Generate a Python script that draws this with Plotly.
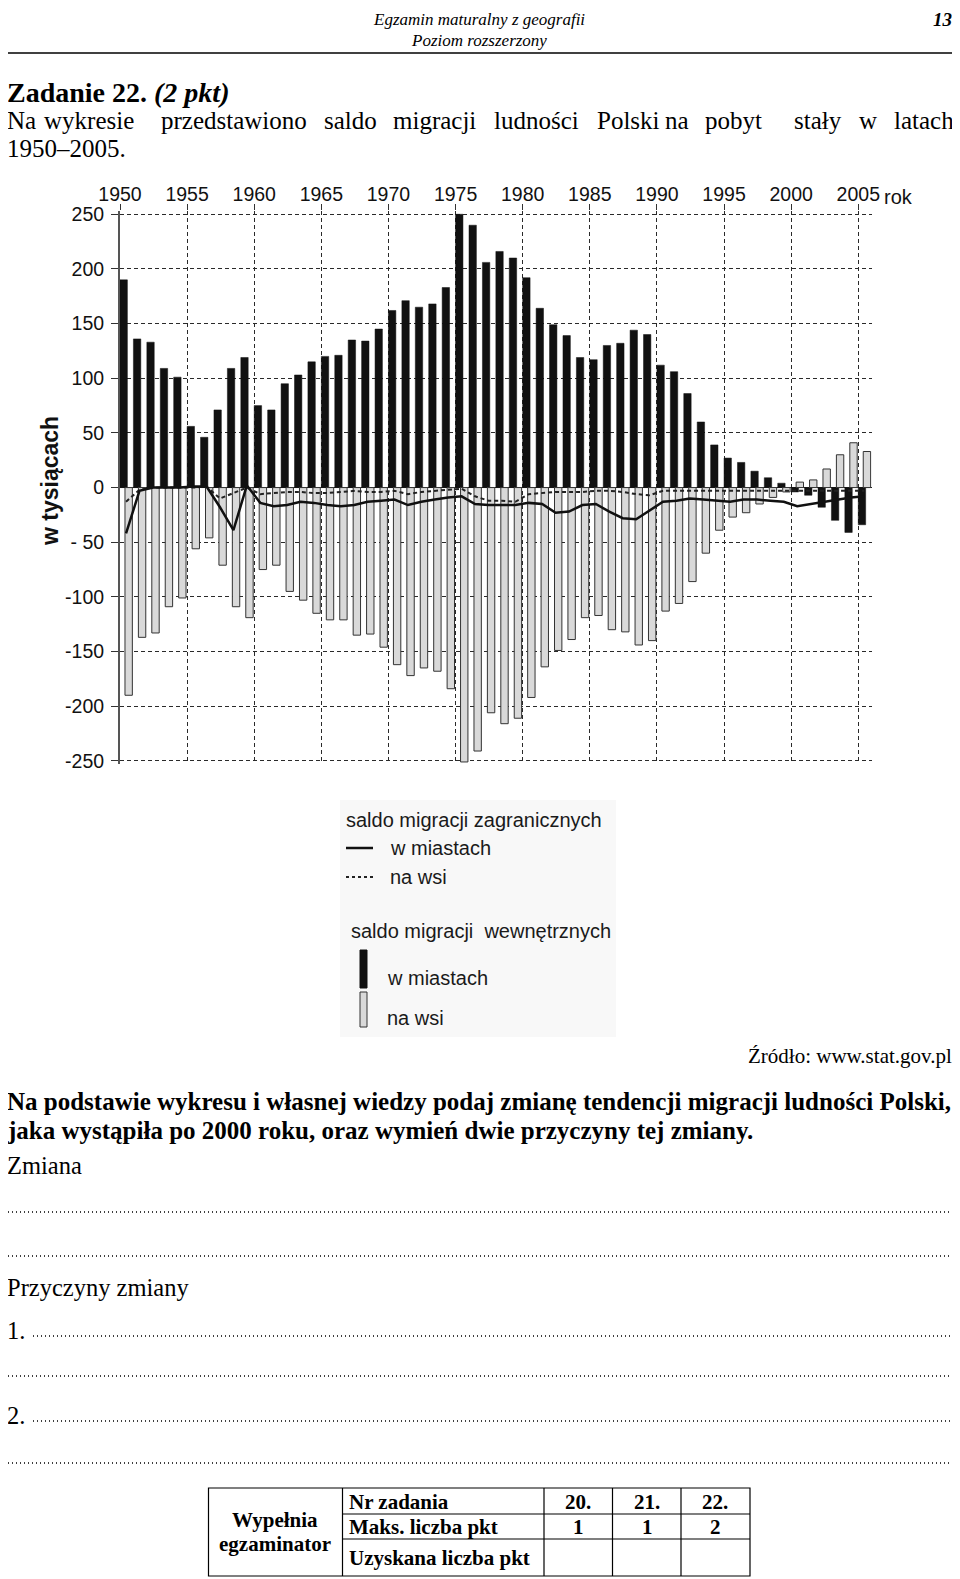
import plotly.graph_objects as go

# lata i dane (w tysiącach)
lata = list(range(1950, 2006))

# saldo migracji wewnętrznych
wewn_miasta = [190, 136, 133, 109, 101, 56, 46, 71, 109, 119,
               75, 71, 95, 103, 115, 120, 121, 135, 134, 145,
               162, 171, 165, 168, 183, 250, 240, 206, 216, 210,
               192, 164, 149, 139, 119, 117, 130, 132, 144, 140,
               112, 106, 86, 60, 39, 27, 23, 15, 9, 4,
               -4, -7, -18, -30, -41, -34]
wewn_wies = [-190, -137, -133, -109, -101, -56, -46, -71, -109, -119,
             -75, -71, -95, -103, -115, -121, -121, -135, -134, -146,
             -162, -172, -165, -168, -184, -251, -241, -206, -216, -211,
             -192, -164, -149, -139, -119, -117, -130, -132, -144, -140,
             -113, -106, -86, -60, -39, -27, -23, -15, -9, -4,
             5, 7, 17, 30, 41, 33]

# saldo migracji zagranicznych
zagr_miasta = [-42, -3, 0, 0, 0, 1, 1, -18, -39, 2,
               -14, -17, -16, -13, -14, -16, -17, -16, -13, -12,
               -11, -16, -13, -11, -9, -8, -15, -16, -16, -16,
               -14, -15, -23, -22, -16, -15, -22, -28, -29, -21,
               -13, -12, -10, -11, -12, -13, -11, -11, -12, -13,
               -17, -15, -13, -11, -9, -8]
zagr_wies = [-13, -2, 0, 0, 0, 0, 1, -10, -5, 0,
             -6, -5, -4, -4, -5, -5, -4, -3, -4, -4,
             -3, -6, -4, -3, -2, -1, -8, -12, -12, -13,
             -6, -5, -4, -4, -4, -3, -3, -4, -6, -7,
             -3, -3, -3, -3, -3, -3, -3, -3, -3, -3,
             -3, -3, -3, -3, -3, -3]

y_ticks = [250, 200, 150, 100, 50, 0, -50, -100, -150, -200, -250]
y_labels = ["250", "200", "150", "100", "50", "0", "- 50", "-100", "-150", "-200", "-250"]
x_ticks = list(range(1950, 2006, 5))
x_labels = [str(r) for r in x_ticks]

# strona ma 8 px marginesu body, więc figura jest o tyle mniejsza i przesunięta
M = 8
W, H = 960 - M, 1579 - M


def px(x):
    return (x - M) / W


def py(y):
    return 1 - (y - M) / H


fig = go.Figure()

fig.add_trace(go.Bar(
    x=lata, y=wewn_miasta, width=0.55, offset=0.0,
    marker=dict(color="#111111", line=dict(color="#111111", width=0.5)),
    showlegend=False
))
fig.add_trace(go.Bar(
    x=lata, y=wewn_wies, width=0.55, offset=0.37,
    marker=dict(color="#d9d9d9", line=dict(color="#333333", width=1)),
    showlegend=False
))

x_lin = [r + 0.45 for r in lata]
fig.add_trace(go.Scatter(
    x=x_lin, y=zagr_wies, mode="lines",
    line=dict(color="#222222", width=2, dash="4px,3px"),
    showlegend=False
))
fig.add_trace(go.Scatter(
    x=x_lin, y=zagr_miasta, mode="lines",
    line=dict(color="#111111", width=2.5),
    showlegend=False
))

# --- tekst strony ---
ann = []


def tekst(s, x, y, size=25, anchor="left", family="Liberation Serif", color="black"):
    ann.append(dict(text=s, x=px(x), y=py(y), xref="paper", yref="paper",
                    xanchor=anchor, yanchor="middle", showarrow=False,
                    font=dict(family=family, size=size, color=color)))


tekst("<i>Egzamin maturalny z geografii</i>", 479, 19, size=17, anchor="center")
tekst("<i>Poziom rozszerzony</i>", 479, 41, size=17, anchor="center")
tekst("<b><i>13</i></b>", 954, 19, size=19, anchor="right")

tekst("<b>Zadanie 22. <i>(2 pkt)</i></b>", 5, 92, size=28)
slowa = ["Na", "wykresie", "przedstawiono", "saldo", "migracji", "ludności",
         "Polski", "na", "pobyt", "stały", "w", "latach"]
pozycje = [7, 44, 161, 324, 393, 494, 597, 665, 705, 794, 859, 894]
for s, x in zip(slowa, pozycje):
    tekst(s, x - 2, 121, size=25)
tekst("1950–2005.", 5, 149, size=25)

tekst("Źródło: www.stat.gov.pl", 954, 1056, size=21, anchor="right")
tekst("<b>Na podstawie wykresu i własnej wiedzy podaj zmianę tendencji migracji ludności Polski,</b>",
      5, 1101, size=25)
tekst("<b>jaka wystąpiła po 2000 roku, oraz wymień dwie przyczyny tej zmiany.</b>", 5, 1130, size=25)
tekst("Zmiana", 5, 1165, size=24.5)
tekst("Przyczyny zmiany", 5, 1287, size=24.5)
tekst("1.", 5, 1330, size=24.5)
tekst("2.", 5, 1415, size=24.5)

# oś Y - opis
ann.append(dict(text="<b>w tysiącach</b>", x=px(50), y=py(481), xref="paper", yref="paper",
                textangle=-90, showarrow=False, xanchor="center", yanchor="middle",
                font=dict(family="Liberation Sans", size=23, color="#111111")))
tekst("rok", 882, 197, size=20, family="Liberation Sans", color="#111111")

# legenda
leg_font = "Liberation Sans"
tekst("saldo migracji zagranicznych", 344, 820, size=20, family=leg_font, color="#1a1a1a")
tekst("w miastach", 388, 848, size=20, family=leg_font, color="#1a1a1a")
tekst("na wsi", 388, 877, size=20, family=leg_font, color="#1a1a1a")
tekst("saldo migracji  wewnętrznych", 349, 931, size=20, family=leg_font, color="#1a1a1a")
tekst("w miastach", 385, 978, size=20, family=leg_font, color="#1a1a1a")
tekst("na wsi", 385, 1018, size=20, family=leg_font, color="#1a1a1a")

# tabela
tekst("<b>Wypełnia</b>", 275, 1520, size=21, anchor="center")
tekst("<b>egzaminator</b>", 275, 1544, size=21, anchor="center")
tekst("<b>Nr zadania</b>", 347, 1502, size=21)
tekst("<b>Maks. liczba pkt</b>", 347, 1527, size=21)
tekst("<b>Uzyskana liczba pkt</b>", 347, 1558, size=21)
for nr, pkt, xc in zip(["20.", "21.", "22."], ["1", "1", "2"], [578, 647, 715]):
    tekst("<b>%s</b>" % nr, xc, 1502, size=21, anchor="center")
    tekst("<b>%s</b>" % pkt, xc, 1527, size=21, anchor="center")

shapes = []


def linia(x0, y0, x1, y1, width=1.2, dash="solid", color="black"):
    shapes.append(dict(type="line", xref="paper", yref="paper",
                       x0=px(x0), y0=py(y0), x1=px(x1), y1=py(y1),
                       line=dict(color=color, width=width, dash=dash)))


linia(8, 53, 952, 53, width=1.5)

# tło legendy
shapes.append(dict(type="rect", xref="paper", yref="paper",
                   x0=px(340), y0=py(1037), x1=px(616), y1=py(800),
                   fillcolor="#f8f8f8", line=dict(width=0), layer="below"))
linia(346, 848, 373, 848, width=2.5, color="#111111")
linia(346, 877, 373, 877, width=2, dash="3px,3px", color="#222222")
shapes.append(dict(type="rect", xref="paper", yref="paper",
                   x0=px(360), y0=py(988), x1=px(367), y1=py(950),
                   fillcolor="#111111", line=dict(color="#111111", width=1)))
shapes.append(dict(type="rect", xref="paper", yref="paper",
                   x0=px(360), y0=py(1027), x1=px(367), y1=py(992),
                   fillcolor="#d9d9d9", line=dict(color="#333333", width=1)))

# linie kropkowane do odpowiedzi
kropki = "1px,3px"
for y in [1212, 1256, 1376, 1463]:
    linia(8, y, 953, y, width=1.3, dash=kropki)
linia(33, 1336, 953, 1336, width=1.3, dash=kropki)
linia(33, 1421, 953, 1421, width=1.3, dash=kropki)

# ramka tabeli
shapes.append(dict(type="rect", xref="paper", yref="paper",
                   x0=px(208.5), y0=py(1576), x1=px(750), y1=py(1488),
                   line=dict(color="black", width=1.2)))
linia(342.5, 1514, 750, 1514)
linia(342.5, 1539, 750, 1539)
for x in [342.5, 544, 612.5, 681]:
    linia(x, 1488, x, 1576)

siatka = "4px,3px"
fig.update_layout(
    width=W, height=H,
    margin=dict(l=0, r=0, t=0, b=0, autoexpand=False),
    paper_bgcolor="white", plot_bgcolor="white",
    barmode="overlay",
    annotations=ann, shapes=shapes,
    xaxis=dict(
        domain=[px(120), px(871.7)], range=[1950, 2006],
        side="top", tickvals=x_ticks, ticktext=x_labels,
        ticks="outside", ticklen=6, tickcolor="#333333",
        showgrid=True, gridcolor="#2a2a2a", gridwidth=1.3, griddash=siatka,
        showline=False, zeroline=False, automargin=False,
        tickfont=dict(family="Liberation Sans", size=19.5, color="#111111"),
        ticklabelstandoff=-5,
        anchor="y"
    ),
    yaxis=dict(
        domain=[py(763.6), py(211)], range=[-252.5, 253],
        tickvals=y_ticks, ticktext=y_labels,
        ticks="outside", ticklen=7, tickcolor="#333333",
        showgrid=True, gridcolor="#2a2a2a", gridwidth=1.3, griddash=siatka,
        showline=True, linecolor="#555555", linewidth=2,
        zeroline=True, zerolinecolor="#222222", zerolinewidth=1.2,
        automargin=False,
        tickfont=dict(family="Liberation Sans", size=19.5, color="#111111"),
        ticklabelstandoff=3
    ),
)

fig.write_html("out.html")
